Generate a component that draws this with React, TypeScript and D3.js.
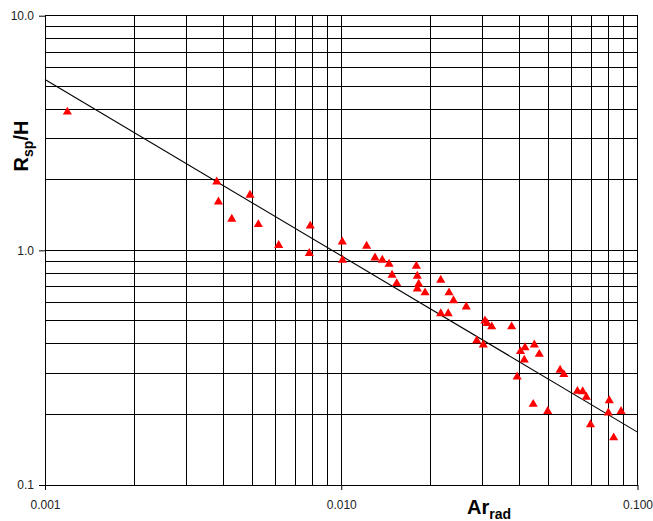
import React, { useRef, useEffect } from "react";
import * as d3 from "d3";

// measured points: Ar_rad vs Rsp/H
const arRad = [
  0.00119, 0.0038, 0.00385, 0.00492, 0.00427, 0.00525, 0.00615, 0.00786, 0.0078,
  0.01008, 0.0101, 0.01218, 0.013, 0.01376, 0.0145, 0.01484, 0.01539, 0.01793,
  0.01806, 0.01826, 0.01806, 0.01918, 0.02167, 0.02311, 0.02393, 0.02642, 0.02167,
  0.02296, 0.03056, 0.03105, 0.0322, 0.0376, 0.02866, 0.03016, 0.04028, 0.04171,
  0.04484, 0.04661, 0.04148, 0.03925, 0.0548, 0.0564, 0.04446, 0.04976, 0.0627,
  0.0653, 0.0672, 0.0803, 0.0797, 0.088, 0.0694, 0.0831,
];
const rspH = [
  3.89, 1.96, 1.61, 1.72, 1.36, 1.29, 1.05, 1.27, 0.971,
  1.088, 0.909, 1.043, 0.93, 0.909, 0.874, 0.785, 0.723, 0.857,
  0.777, 0.718, 0.686, 0.66, 0.747, 0.66, 0.611, 0.575, 0.538,
  0.538, 0.501, 0.488, 0.473, 0.473, 0.412, 0.396, 0.371, 0.385,
  0.396, 0.361, 0.341, 0.289, 0.309, 0.296, 0.221, 0.206, 0.251,
  0.25, 0.237, 0.229, 0.203, 0.206, 0.181, 0.159,
];

// power-law fit line endpoints
const fitX = [0.001, 0.1];
const fitY = [5.35, 0.168];

const xTicks = [0.001, 0.01, 0.1];
const xTickLabels = ["0.001", "0.010", "0.100"];
const yTicks = [0.1, 1, 10];
const yTickLabels = ["0.1", "1.0", "10.0"];

export default function App() {
  const width = 653;
  const height = 521;
  const marginLeft = 45;
  const marginRight = 15.5;
  const marginTop = 15.7;
  const marginBottom = 36;

  const gx = useRef<SVGGElement>(null);
  const gy = useRef<SVGGElement>(null);

  const x = d3.scaleLog().domain([0.001, 0.1]).range([marginLeft, width - marginRight]);
  const y = d3.scaleLog().domain([0.1, 10]).range([height - marginBottom, marginTop]);

  // gridlines at 1..9 of each decade
  const xGrid: number[] = [];
  [0.001, 0.01].forEach((d) => d3.range(1, 10).forEach((k) => xGrid.push(k * d)));
  xGrid.push(0.1);
  const yGrid: number[] = [];
  [0.1, 1].forEach((d) => d3.range(1, 10).forEach((k) => yGrid.push(k * d)));
  yGrid.push(10);

  const fitLine = d3
    .line<number>()
    .x((d, i) => x(fitX[i]))
    .y((d) => y(d));

  const tri = d3.symbol(d3.symbolTriangle, 36)();

  useEffect(() => {
    const ax = d3
      .axisBottom(x)
      .tickValues(xTicks)
      .tickFormat((d, i) => xTickLabels[i])
      .tickSize(5)
      .tickSizeOuter(0)
      .tickPadding(10);
    const sx = d3.select(gx.current!).call(ax);
    sx.select(".domain").remove();
    sx.selectAll("text").attr("font-size", 12).attr("font-family", "Liberation Sans, Arial, sans-serif").attr("fill", "#222");

    const ay = d3
      .axisLeft(y)
      .tickValues(yTicks)
      .tickFormat((d, i) => yTickLabels[i])
      .tickSize(6)
      .tickSizeOuter(0)
      .tickPadding(5);
    const sy = d3.select(gy.current!).call(ay);
    sy.select(".domain").remove();
    sy.selectAll("text").attr("font-size", 12).attr("font-family", "Liberation Sans, Arial, sans-serif").attr("fill", "#222");
  }, []);

  return (
    <svg
      width={width}
      height={height}
      style={{ position: "absolute", left: 0, top: 0, background: "white" }}
      fontFamily="Liberation Sans, Arial, sans-serif"
    >
      <g stroke="#000" strokeWidth={1} shapeRendering="crispEdges">
        {xGrid.map((v, i) => (
          <line key={"gx" + i} x1={x(v)} x2={x(v)} y1={marginTop} y2={height - marginBottom} />
        ))}
        {yGrid.map((v, i) => (
          <line key={"gy" + i} x1={marginLeft} x2={width - marginRight} y1={y(v)} y2={y(v)} />
        ))}
      </g>
      <g ref={gx} transform={`translate(0,${height - marginBottom})`} />
      <g ref={gy} transform={`translate(${marginLeft},0)`} />

      <path d={fitLine(fitY) || ""} fill="none" stroke="#000" strokeWidth={1.1} />

      <g fill="#ff0000">
        {arRad.map((v, i) => (
          <path key={"p" + i} d={tri || ""} transform={`translate(${x(v)},${y(rspH[i])})`} />
        ))}
      </g>

      <text x={467} y={514} fontSize={20} fontWeight="bold" fill="#000">
        Ar
        <tspan dy={5} fontSize={14}>rad</tspan>
      </text>
      <text
        transform={`translate(28,146) rotate(-90)`}
        textAnchor="middle"
        fontSize={20}
        fontWeight="bold"
        fill="#000"
      >
        R<tspan dy={5} fontSize={14}>sp</tspan>
        <tspan dy={-5}>/H</tspan>
      </text>
    </svg>
  );
}
